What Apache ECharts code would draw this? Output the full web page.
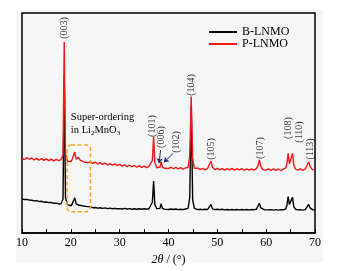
<!DOCTYPE html>
<html><head><meta charset="utf-8">
<script src="https://cdn.jsdelivr.net/npm/echarts@6/dist/echarts.min.js"></script>
<style>html,body{margin:0;padding:0;background:#fff}#c{width:340px;height:271px}</style>
</head><body><div id="c"></div><script>
const angles=[10.0,10.5,11.0,11.5,12.0,12.5,13.0,13.5,14.0,14.5,15.0,15.5,16.0,16.5,17.0,17.5,18.0,18.4,18.65,18.9,19.3,19.7,20.1,20.5,20.8,21.1,21.35,21.6,21.9,22.3,22.7,23.1,23.5,24.0,24.5,25.0,25.5,26.0,26.5,27.0,27.5,28.0,28.5,29.0,29.5,30.0,30.5,31.0,31.5,32.0,32.5,33.0,33.5,34.0,34.5,35.0,35.5,36.0,36.4,36.7,36.95,37.2,37.6,38.0,38.25,38.5,38.75,39.2,39.6,40.0,40.5,41.0,41.5,42.0,42.5,43.0,43.5,44.0,44.35,44.65,44.95,45.3,45.7,46.0,46.5,47.0,47.5,48.0,48.4,48.7,49.0,49.5,50.0,50.5,51.0,51.5,52.0,52.5,53.0,53.5,54.0,54.5,55.0,55.5,56.0,56.5,57.0,57.5,58.0,58.3,58.6,58.9,59.3,59.7,60.0,60.5,61.0,61.5,62.0,62.5,63.0,63.5,64.0,64.25,64.5,64.75,64.95,65.15,65.4,65.65,66.0,66.5,67.0,67.5,68.0,68.4,68.7,69.0,69.5,70.0];
const bLNMO=[15.5,15.2,15.3,15.0,14.9,14.6,14.7,14.3,14.4,14.0,14.1,13.8,13.9,13.5,13.6,13.2,13.3,15.5,72,16.0,12.9,12.6,12.4,12.8,16.0,13.2,12.6,12.7,12.3,12.4,12.0,12.1,11.8,11.9,11.5,11.6,11.3,11.5,11.2,11.4,11.1,11.3,11.0,11.2,11.0,11.1,10.9,11.2,10.9,11.1,10.8,11.0,10.8,11.0,10.8,11.0,10.8,11.0,11.2,14,23.6,13,11.1,10.9,11.2,13.3,11.2,10.8,10.9,10.7,10.9,10.7,10.9,10.6,10.8,10.6,10.9,11.2,16,58,15,11.2,10.8,10.6,10.8,10.6,10.8,10.6,11.0,13.0,11.0,10.6,10.8,10.6,10.8,10.5,10.7,10.5,10.7,10.5,10.7,10.5,10.7,10.5,10.7,10.5,10.7,10.6,10.8,11.5,13.5,11.4,10.7,10.5,10.7,10.5,10.6,10.4,10.6,10.4,10.6,10.5,10.9,12.5,16.5,13.0,12.6,13.5,16.2,12.0,10.8,10.5,10.6,10.4,10.6,11.3,13.0,11.4,10.6,10.5];
const pLNMO=[34.0,33.4,34.3,33.5,34.1,33.2,33.9,33.1,33.8,33.0,33.7,32.9,33.6,32.8,33.5,32.9,33.4,35.5,86.8,36,32.6,33.1,32.5,33.4,36.8,33.6,34.0,34.4,33.1,33.0,32.3,32.8,31.9,32.5,31.6,32.2,31.4,32.0,31.2,31.8,30.9,31.5,30.8,31.4,30.6,31.2,30.4,31.0,30.2,30.9,30.1,30.7,29.9,30.6,29.8,30.4,29.7,30.3,30.0,33,43.8,32,29.6,30.2,30.0,32.4,30.0,29.4,30.0,29.3,29.9,29.2,29.8,29.1,29.7,29.0,29.6,29.8,35,62,34,29.4,28.9,29.5,28.8,29.4,28.7,29.3,30.0,32.7,30.0,28.8,29.4,28.7,29.3,28.6,29.3,28.7,29.4,28.6,29.2,28.7,29.3,28.5,29.2,28.6,29.2,28.6,29.3,30.5,33.2,30.3,28.8,29.3,28.6,29.2,28.5,29.1,28.5,29.1,28.4,29.0,29.6,31.5,36.2,31.5,30.8,32,36.2,31,29.0,28.6,29.2,28.5,29.1,30.0,32.4,30.2,28.7,28.9];
const xTicks=[10,20,30,40,50,60,70];
const peakNames=['(003)','(104)','(101)','(006)','(102)','(105)','(107)','(108)','(110)','(113)'];
const peakLabelAngles=[18.65,44.7,36.8,38.6,41.7,48.8,58.9,64.5,66.9,69.0];
const peakLabelHeights=[93.2,67.3,48.6,43.6,41.4,38.2,38.6,47.7,45.9,38.2];
const arrowStarts=[[38.37,37.7],[40.96,36.2]];
const arrowEnds=[[38.08,31.7],[39.05,32.1]];
const boxCorners=[[19.23,40],[24.02,9.7]];
const noteAnchor=[20.0,49.5];

const FONT="'Liberation Serif','Times New Roman',serif";
const chart=echarts.init(document.getElementById('c'),null,{renderer:'canvas'});
const zip=(ys)=>angles.map((a,i)=>[a,ys[i]]);
chart.setOption({
  backgroundColor:'#fff',
  animation:false,
  grid:{left:22,right:25,top:13,bottom:38,show:true,borderColor:'#000',borderWidth:1.5,backgroundColor:'transparent'},
  legend:{orient:'vertical',left:204,top:21,itemWidth:28,itemHeight:2,itemGap:0,icon:'rect',symbolKeepAspect:false,
    data:['B-LNMO','P-LNMO'],textStyle:{fontFamily:FONT,fontSize:12,color:'#000'}},
  xAxis:{type:'value',min:10,max:70,interval:10,
    axisLine:{lineStyle:{color:'#000',width:1.5}},
    axisTick:{inside:true,length:4,lineStyle:{color:'#000',width:1}},
    minorTick:{show:true,splitNumber:2,length:4,lineStyle:{color:'#000',width:1}},
    splitLine:{show:false},
    axisLabel:{margin:4,fontFamily:FONT,fontSize:12,color:'#000',
      formatter:(v)=>xTicks.includes(v)?String(v):''},
    name:'{i|2θ} / (°)',nameLocation:'middle',nameGap:19,
    nameTextStyle:{fontFamily:FONT,fontSize:12,color:'#000',rich:{i:{fontFamily:FONT,fontSize:12,fontStyle:'italic',color:'#000'}}}},
  yAxis:{type:'value',min:0,max:100,show:false},
  series:[
    {name:'B-LNMO',type:'line',data:zip(bLNMO),symbol:'none',lineStyle:{color:'#000',width:1.4},itemStyle:{color:'#000'},z:2},
    {name:'P-LNMO',type:'line',data:zip(pLNMO),symbol:'none',lineStyle:{color:'#f01818',width:1.4},itemStyle:{color:'#f01818'},z:3},
    {type:'scatter',symbolSize:0,silent:true,z:5,
      data:peakNames.map((n,i)=>({name:n,value:[peakLabelAngles[i],peakLabelHeights[i]]})),
      label:{show:true,position:'inside',rotate:90,formatter:(p)=>p.name,fontFamily:FONT,fontSize:10,color:'#000'}},
    {type:'lines',coordinateSystem:'cartesian2d',silent:true,z:6,
      symbol:['none','arrow'],symbolSize:5,
      lineStyle:{color:'#1d2a6e',width:1,opacity:1},
      data:arrowStarts.map((s,i)=>({coords:[s,arrowEnds[i]]}))}
  ]
});
const p1=chart.convertToPixel({gridIndex:0},boxCorners[0]);
const p2=chart.convertToPixel({gridIndex:0},boxCorners[1]);
const pn=chart.convertToPixel({gridIndex:0},noteAnchor);
chart.setOption({graphic:{elements:[
  {type:'rect',z:-100,silent:true,shape:{x:16,y:10,width:307,height:252},style:{fill:'#f6f6f6'}},
  {type:'rect',z:10,shape:{x:p1[0],y:p1[1],width:p2[0]-p1[0],height:p2[1]-p1[1],r:4},
    style:{fill:'none',stroke:'#f5a524',lineWidth:1.5,lineDash:[4,2.5]}},
  {type:'text',z:10,x:pn[0],y:pn[1],style:{
    text:'Super-ordering\nin Li{s|2}MnO{s|3}',fontFamily:FONT,fontSize:10.5,fill:'#000',lineHeight:13,
    verticalAlign:'middle',
    rich:{s:{fontFamily:FONT,fontSize:7,verticalAlign:'bottom',padding:[5,0,0,0],fill:'#000'}}}}
]}});
</script></body></html>
